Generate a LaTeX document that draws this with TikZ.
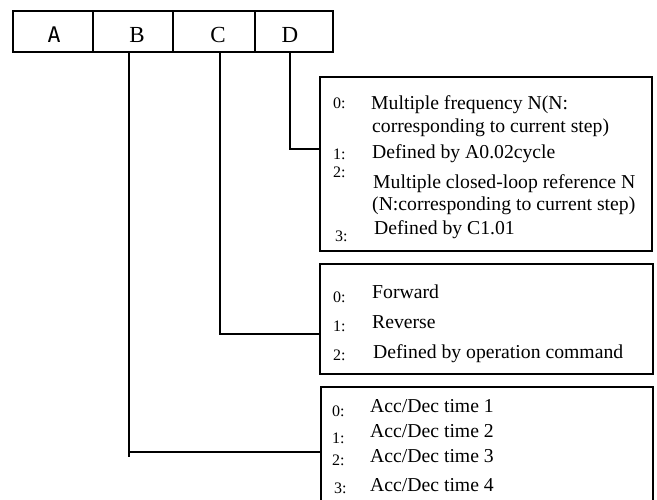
\documentclass[tikz,border=0pt]{standalone}
\usepackage{fontspec}
\setmainfont{Liberation Serif}
\newfontfamily\letterfont{DejaVu Sans Mono}
\begin{document}
\begin{tikzpicture}[x=1pt,y=-1pt,
  frame/.style={draw, line width=1.6pt, inner sep=0pt, anchor=north west},
  conn/.style={line width=1.6pt},
  head/.style={anchor=base, inner sep=0pt, font=\fontsize{23}{26}\selectfont},
  num/.style={anchor=base west, inner sep=0pt, font=\fontsize{16}{18}\selectfont},
  item/.style={anchor=base west, inner sep=0pt, font=\fontsize{19.7}{22}\selectfont}]
\useasboundingbox (0,0) rectangle (657,500);
\clip (0,0) rectangle (657,500);
% top cells
\node[frame, minimum width=80pt, minimum height=41pt] (cellA) at (12,10) {};
\node[frame, minimum width=80pt, minimum height=41pt] (cellB) at (92,10) {};
\node[frame, minimum width=82pt, minimum height=41pt] (cellC) at (172,10) {};
\node[frame, minimum width=78pt, minimum height=41pt] (cellD) at (254,10) {};
\node[head, font=\letterfont\fontsize{21.5}{24}\selectfont] (la) at (54,43) {A};
\node[head] (lb) at (137,43) {B};
\node[head] (lc) at (218,43) {C};
\node[head] (ld) at (290,43) {D};
% boxes
\node[frame, minimum width=332pt, minimum height=174pt] (boxD) at (319,76) {};
\node[frame, minimum width=333pt, minimum height=110pt] (boxC) at (319,263) {};
\node[frame, minimum width=332pt, minimum height=130pt] (boxB) at (320,386) {};
% connectors
\draw[conn] ([xshift=-4pt]cellD.south) |- ([yshift=15pt]boxD.west);
\draw[conn] ([xshift=6pt]cellC.south) |- ([yshift=-15pt]boxC.west);
\draw[conn] ([xshift=-4pt]cellB.south) |- (boxB.west);
\draw[conn] ([xshift=-4pt]cellB.south |- boxB.west) -- ++(0,5);
% D box texts
\node[num] (d0n) at (333,109) {0:};
\node[item] (d0a) at (371,110) {Multiple frequency N(N:};
\node[item] (d0b) at (372,133) {corresponding to current step)};
\node[num] (d1n) at (333,160) {1:};
\node[item] (d1a) at (372,159) {Defined by A0.02cycle};
\node[num] (d2n) at (333,178) {2:};
\node[item] (d2a) at (373,189) {Multiple closed-loop reference N};
\node[item] (d2b) at (372,211) {(N:corresponding to current step)};
\node[num] (d3n) at (335,242) {3:};
\node[item] (d3a) at (374,235) {Defined by C1.01};
% C box texts
\node[num] (c0n) at (333,302) {0:};
\node[item] (c0a) at (372,299) {Forward};
\node[num] (c1n) at (333,331) {1:};
\node[item] (c1a) at (372,328) {Reverse};
\node[num] (c2n) at (333,360) {2:};
\node[item] (c2a) at (373,359) {Defined by operation command};
% B box texts
\node[num] (b0n) at (332,416) {0:};
\node[item] (b0a) at (370,412) {Acc/Dec time 1};
\node[num] (b1n) at (332,443) {1:};
\node[item] (b1a) at (370,437) {Acc/Dec time 2};
\node[num] (b2n) at (332,465) {2:};
\node[item] (b2a) at (370,462) {Acc/Dec time 3};
\node[num] (b3n) at (334,493) {3:};
\node[item] (b3a) at (370,491) {Acc/Dec time 4};
\end{tikzpicture}
\end{document}
